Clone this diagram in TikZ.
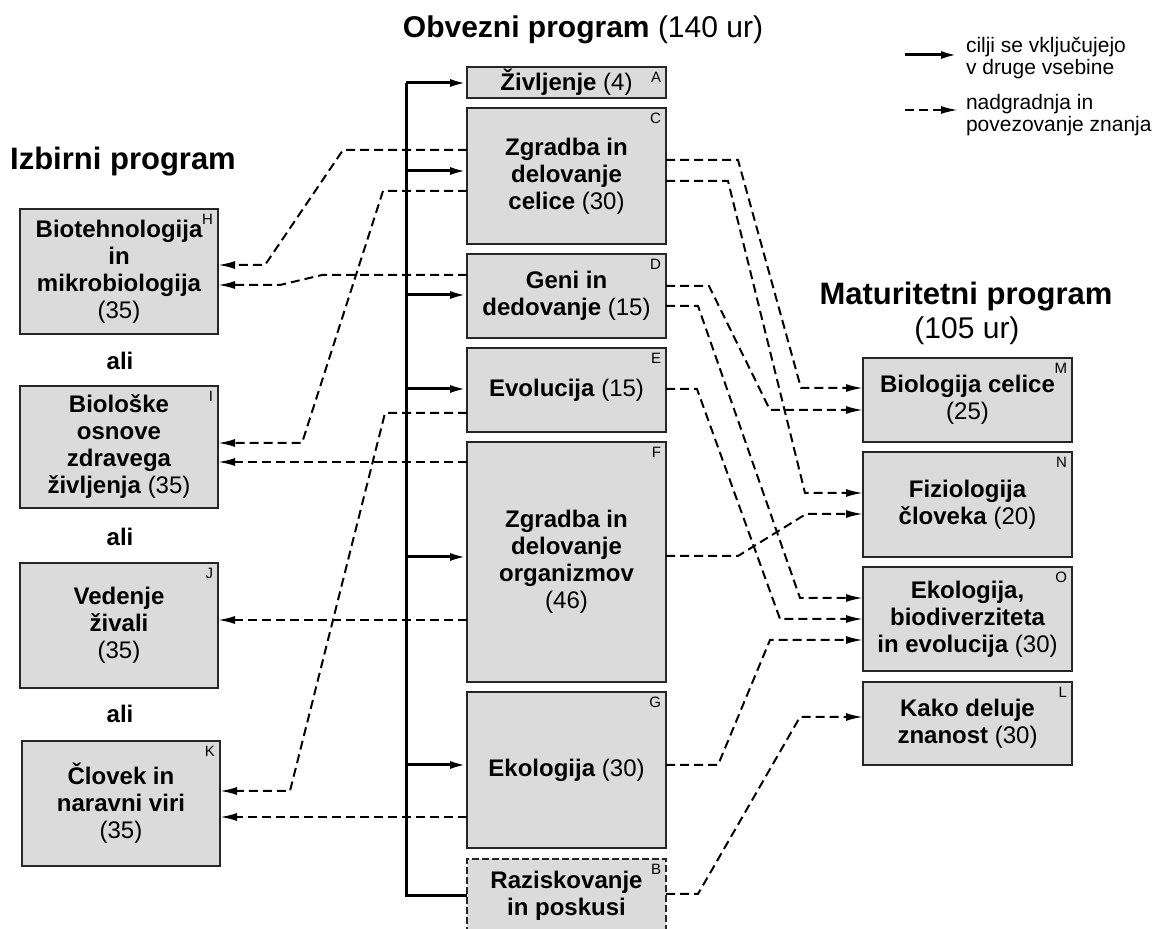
\documentclass[tikz,border=0pt]{standalone}
\usepackage{fontspec}
\setmainfont{Liberation Sans}
\usetikzlibrary{arrows.meta}

\newcommand{\ur}[1]{\textmd{(#1)}}

\begin{document}
\begin{tikzpicture}[x=0.5pt,y=-0.5pt,inner sep=0pt,outer sep=0pt,
prog/.style={draw=black!85,rectangle,fill=black!14,line width=0.75pt,align=center,font=\fontsize{12}{13.5}\selectfont\bfseries},
obv/.style={prog,minimum width=99.5pt},
izb/.style={prog,minimum width=99pt},
mat/.style={prog,minimum width=104.5pt},
tag/.style={font=\fontsize{7.5}{8}\selectfont,anchor=north east,inner sep=2.5pt},
headline/.style={font=\fontsize{15.5}{17}\selectfont\bfseries,align=center},
legend/.style={font=\fontsize{10.5}{9.5}\selectfont,align=left,anchor=west},
flow/.style={line width=1.5pt},
link/.style={line width=1pt,dash pattern=on 4.5pt off 2.5pt},
arr/.style={-{Latex[length=8.5pt,width=4pt]}}]
\useasboundingbox (0,0) rectangle (1157,929);

% naslovi
\draw (583,30) node[headline,font=\fontsize{15}{17}\selectfont\bfseries] (obvezni) {Obvezni program \ur{140 ur}};
\draw (123,162) node[headline] (izbirni) {Izbirni program};
\draw (966,297) node[headline] (matura) {Maturitetni program};
\draw (967,331) node[font=\fontsize{15}{17}\selectfont] (maturaur) {(105 ur)};

% obvezni program
\draw (566.5,82.5) node[obv,minimum height=15.5pt] (A) {Življenje \ur{4}};
\draw (566.5,176) node[obv,minimum height=68pt] (C) {Zgradba in\\delovanje\\celice \ur{30}};
\draw (566.5,296) node[obv,minimum height=42pt] (D) {Geni in\\dedovanje \ur{15}};
\draw (566.5,390) node[obv,minimum height=42pt] (E) {Evolucija \ur{15}};
\draw (566.5,562) node[obv,minimum height=120pt] (F) {Zgradba in\\delovanje\\organizmov\\\ur{46}};
\draw (566.5,770) node[obv,minimum height=78pt] (G) {Ekologija \ur{30}};
\draw (566.5,896) node[obv,minimum height=37pt,dash pattern=on 3.5pt off 1.5pt] (B) {Raziskovanje\\in poskusi};

% izbirni program
\draw (119,271.5) node[izb,minimum height=62.5pt] (H) {Biotehnologija\\in\\mikrobiologija\\\ur{35}};
\draw (119,447) node[izb,minimum height=61pt] (I) {Biološke\\osnove\\zdravega\\življenja \ur{35}};
\draw (119,625.5) node[izb,minimum height=62.5pt] (J) {Vedenje\\živali\\\ur{35}};
\draw (121,803.5) node[izb,minimum height=62.5pt] (K) {Človek in\\naravni viri\\\ur{35}};
\foreach \y [count=\i] in {361,537,714}
  \draw (120,\y) node[font=\fontsize{12}{14}\selectfont\bfseries] (ali\i) {ali};

% maturitetni program
\draw (967.5,400) node[mat,minimum height=42pt] (M) {Biologija celice\\\ur{25}};
\draw (967.5,504.5) node[mat,minimum height=52.5pt] (N) {Fiziologija\\človeka \ur{20}};
\draw (967.5,619) node[mat,minimum height=52pt] (O) {Ekologija,\\biodiverziteta\\in evolucija \ur{30}};
\draw (967.5,723.5) node[mat,minimum height=41.5pt] (L) {Kako deluje\\znanost \ur{30}};

\foreach \n in {A,B,C,D,E,F,G,H,I,J,K,L,M,N,O}
  \node[tag] at (\n.north east) {\n};

% legenda
\draw (966,58) node[legend] (legsolid) {cilji se vključujejo\\v druge vsebine};
\draw (966,115) node[legend] (legdash) {nadgradnja in\\povezovanje znanja};
\coordinate (legA) at (905,55);
\coordinate (legB) at (905,110);
\draw[flow,arr,shorten >=4pt] (legA) -- (legsolid.west |- legA);
\draw[link,arr,shorten >=4pt] (legB) -- (legdash.west |- legB);

% cilji se vkljucujejo
\coordinate (tt) at (406,83);
\coordinate (tb) at (406,896);
\draw[flow] (B.west |- tb) -- (tb) -- (tt);
\draw[flow,arr] (tt) -- (A.west |- tt);
\foreach \n/\y in {C/171,D/295,E/389,F/557,G/765}
  \draw[flow,arr] (tt |- 0,\y) -- (\n.west |- 0,\y);

% nadgradnja - levo
\draw[link,arr] (C.west |- 0,150) -- (343,150) -- (265,265) -- (H.east |- 0,265);
\draw[link,arr] (C.west |- 0,191) -- (383,191) -- (302,443) -- (I.east |- 0,443);
\draw[link,arr] (D.west |- 0,275) -- (322,275) -- (280,285) -- (H.east |- 0,285);
\draw[link,arr] (F.west |- 0,462) -- (I.east |- 0,462);
\draw[link,arr] (E.west |- 0,413) -- (385,413) -- (290,791) -- (K.east |- 0,791);
\draw[link,arr] (F.west |- 0,620) -- (J.east |- 0,620);
\draw[link,arr] (G.west |- 0,817) -- (K.east |- 0,817);

% nadgradnja - desno
\draw[link,arr] (C.east |- 0,160) -- (738,160) -- (801,388) -- (M.west |- 0,388);
\draw[link,arr] (C.east |- 0,181) -- (728,181) -- (805,493) -- (N.west |- 0,493);
\draw[link,arr] (D.east |- 0,286) -- (709,286) -- (770,410) -- (M.west |- 0,410);
\draw[link,arr] (D.east |- 0,306) -- (698,306) -- (800,598) -- (O.west |- 0,598);
\draw[link,arr] (E.east |- 0,389) -- (697,389) -- (780,619) -- (O.west |- 0,619);
\draw[link,arr] (F.east |- 0,556) -- (738,556) -- (806,514) -- (N.west |- 0,514);
\draw[link,arr] (G.east |- 0,765) -- (718,765) -- (770,640) -- (O.west |- 0,640);
\draw[link,arr] (B.east |- 0,894) -- (698,894) -- (800,717) -- (L.west |- 0,717);
\end{tikzpicture}
\end{document}
